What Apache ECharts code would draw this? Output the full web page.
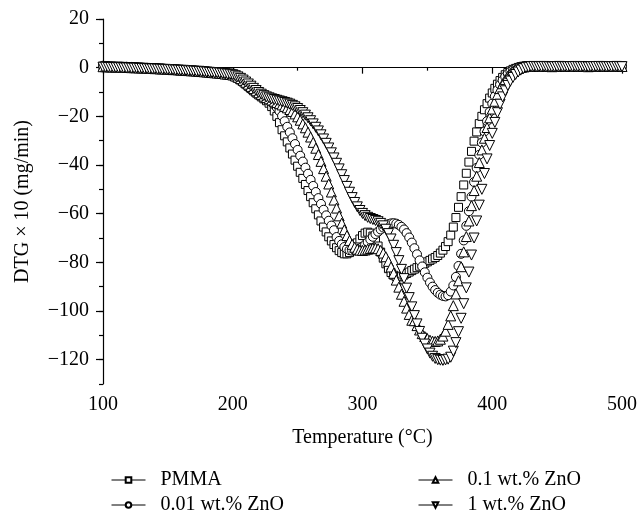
<!DOCTYPE html>
<html>
<head>
<meta charset="utf-8">
<script src="https://cdn.jsdelivr.net/npm/echarts@6/dist/echarts.min.js"></script>
<style>
html,body{margin:0;padding:0;background:#fff;}
#chart{width:640px;height:516px;}
</style>
</head>
<body>
<div id="chart"></div>
<script>
// Temperature (°C), sampled every 2 degrees
const temperature = [
100,102,104,106,108,110,112,114,116,118,120,122,124,126,128,130,132,134,136,138,
140,142,144,146,148,150,152,154,156,158,160,162,164,166,168,170,172,174,176,178,
180,182,184,186,188,190,192,194,196,198,200,202,204,206,208,210,212,214,216,218,
220,222,224,226,228,230,232,234,236,238,240,242,244,246,248,250,252,254,256,258,
260,262,264,266,268,270,272,274,276,278,280,282,284,286,288,290,292,294,296,298,
300,302,304,306,308,310,312,314,316,318,320,322,324,326,328,330,332,334,336,338,
340,342,344,346,348,350,352,354,356,358,360,362,364,366,368,370,372,374,376,378,
380,382,384,386,388,390,392,394,396,398,400,402,404,406,408,410,412,414,416,418,
420,422,424,426,428,430,432,434,436,438,440,442,444,446,448,450,452,454,456,458,
460,462,464,466,468,470,472,474,476,478,480,482,484,486,488,490,492,494,496,498,
500
];

// DTG x 10 (mg/min) for each sample
const pmma = [
0.6,0.6,0.5,0.5,0.5,0.4,0.4,0.4,0.3,0.3,0.3,0.2,0.2,0.1,0.1,0.0,0.0,-0.1,-0.1,-0.2,
-0.2,-0.3,-0.3,-0.4,-0.5,-0.5,-0.6,-0.7,-0.7,-0.8,-0.9,-1.0,-1.0,-1.1,-1.2,-1.3,-1.3,-1.4,-1.5,-1.6,
-1.7,-1.8,-1.9,-2.0,-2.1,-2.3,-2.4,-2.6,-2.8,-3.0,-3.3,-3.8,-4.4,-5.1,-5.9,-6.8,-7.7,-8.6,-9.5,-10.4,
-11.2,-12.0,-12.8,-13.6,-14.6,-16.0,-17.8,-20.0,-22.6,-25.5,-28,-30.5,-33,-35.5,-38,-40.5,-43,-45.5,-48,-50.5,
-53,-55.5,-58,-60.5,-63,-65.5,-67.5,-69.5,-71.2,-72.7,-74,-75.2,-76,-76.5,-76.5,-76,-75,-73.6,-72,-70.4,
-69,-68,-67.6,-68,-69.2,-71,-73.3,-75.8,-78.3,-80.6,-82.6,-84.2,-85.3,-85.9,-86,-85.7,-85.2,-84.6,-84,-83.4,
-82.8,-82.2,-81.6,-81,-80.4,-79.8,-79.2,-78.6,-78,-77.2,-76.2,-75,-73.5,-71.5,-68.8,-65.5,-61.6,-57.4,-53,-48.2,
-43.4,-38.8,-34.4,-30.2,-26.4,-23,-20,-17.3,-14.8,-12.5,-10.4,-8.5,-6.8,-5.3,-4,-2.9,-2,-1.3,-0.7,-0.3,
0.1,0.4,0.6,0.7,0.8,0.8,0.7,0.8,0.8,0.9,0.8,0.8,0.8,0.7,0.8,0.8,0.9,0.8,0.8,0.8,
0.8,0.7,0.8,0.8,0.8,0.9,0.8,0.8,0.8,0.8,0.7,0.8,0.8,0.9,0.8,0.8,0.8,0.8,0.9,0.8,
0.8
];
const zno001 = [
0.8,0.7,0.7,0.6,0.6,0.5,0.5,0.5,0.4,0.4,0.3,0.3,0.2,0.2,0.1,0.1,0.0,0.0,-0.1,-0.2,
-0.2,-0.3,-0.4,-0.4,-0.5,-0.6,-0.6,-0.7,-0.8,-0.8,-0.9,-1.0,-1.1,-1.1,-1.2,-1.3,-1.4,-1.5,-1.5,-1.6,
-1.7,-1.8,-1.9,-2.0,-2.1,-2.2,-2.4,-2.5,-2.7,-2.9,-3.2,-3.6,-4.1,-4.7,-5.4,-6.2,-7.0,-7.9,-8.8,-9.7,
-10.5,-11.3,-12.0,-12.7,-13.4,-14.2,-15.2,-16.4,-17.9,-19.8,-22,-24.3,-26.6,-29,-31.4,-33.8,-36.2,-38.6,-41.1,-43.6,
-46.1,-48.6,-51.1,-53.6,-56,-58.4,-60.7,-62.9,-64.9,-66.8,-69.6,-71.2,-72.6,-73.7,-74.5,-75,-75.2,-75.1,-74.8,-74.3,
-73.6,-72.7,-71.7,-70.6,-69.5,-68.4,-67.4,-66.5,-65.7,-65,-64.3,-64,-63.9,-64.1,-64.6,-65.4,-66.5,-68,-69.8,-71.9,
-74.2,-76.7,-79.2,-81.7,-84.1,-86.3,-88.3,-90,-91.4,-92.5,-93.3,-93.8,-94,-93.5,-92,-89.5,-86,-81.5,-76.5,-71,
-65,-59,-53,-47,-41.2,-35.8,-30.8,-26.2,-22,-18.2,-14.8,-11.8,-9.2,-7,-5.2,-3.7,-2.5,-1.6,-0.9,-0.4,
0,0.3,0.5,0.6,0.5,0.6,0.6,0.7,0.6,0.6,0.6,0.5,0.6,0.6,0.7,0.6,0.6,0.6,0.5,0.6,
0.6,0.6,0.7,0.6,0.6,0.6,0.6,0.5,0.6,0.6,0.6,0.7,0.6,0.6,0.6,0.6,0.6,0.5,0.6,0.6,
0.6
];
const zno01 = [
0.4,0.4,0.4,0.3,0.3,0.3,0.2,0.2,0.2,0.1,0.1,0.0,0.0,0.0,-0.1,-0.1,-0.2,-0.2,-0.3,-0.3,
-0.4,-0.4,-0.5,-0.5,-0.6,-0.6,-0.7,-0.8,-0.8,-0.9,-1.0,-1.0,-1.1,-1.2,-1.3,-1.3,-1.4,-1.5,-1.6,-1.7,
-1.8,-1.9,-2.0,-2.1,-2.2,-2.3,-2.4,-2.6,-2.7,-2.8,-3.0,-3.4,-3.9,-4.5,-5.2,-6.0,-6.8,-7.7,-8.6,-9.5,
-10.3,-11.0,-11.7,-12.3,-12.8,-13.3,-13.8,-14.3,-14.8,-15.3,-15.9,-16.5,-17.2,-18.0,-19.0,-20.2,-21.6,-23.1,-24.7,-26.5,
-28.5,-30.7,-33.1,-35.7,-38.5,-41.5,-44.6,-47.8,-51.1,-54.4,-57.7,-60.9,-63.9,-66.6,-69,-71,-72.6,-73.8,-74.6,-75,
-75.1,-74.9,-74.6,-74.3,-74.1,-74.1,-74.4,-75.1,-76.2,-77.7,-79.6,-81.9,-84.5,-87.3,-90.2,-93.1,-96,-98.8,-101.4,-103.8,
-104,-106,-107.8,-109.3,-110.5,-111.4,-112,-112.4,-112.5,-112.3,-111.6,-110.3,-108.3,-105.5,-102,-97.8,-93,-87.6,-81.8,-75.7,
-69.4,-63,-56.7,-50.5,-44.6,-39,-33.8,-29,-24.6,-20.6,-17,-13.8,-11,-8.6,-6.6,-4.9,-3.5,-2.4,-1.5,-0.8,
-0.3,0.1,0.3,0.5,0.5,0.5,0.6,0.5,0.5,0.5,0.6,0.5,0.5,0.4,0.5,0.5,0.6,0.5,0.5,0.5,
0.5,0.5,0.6,0.5,0.5,0.5,0.5,0.4,0.5,0.5,0.5,0.6,0.5,0.5,0.5,0.5,0.5,0.5,0.6,0.5,
0.5
];
const zno1 = [
0.2,0.2,0.1,0.1,0.1,0.0,0.0,0.0,-0.1,-0.1,-0.1,-0.2,-0.2,-0.2,-0.3,-0.3,-0.4,-0.4,-0.5,-0.5,
-0.5,-0.6,-0.6,-0.7,-0.7,-0.8,-0.8,-0.9,-1.0,-1.0,-1.1,-1.1,-1.2,-1.3,-1.3,-1.4,-1.5,-1.5,-1.6,-1.7,
-1.8,-1.9,-2.0,-2.1,-2.1,-2.2,-2.3,-2.5,-2.6,-2.7,-2.9,-3.3,-3.8,-4.4,-5.1,-5.9,-6.7,-7.6,-8.5,-9.4,
-10.2,-10.9,-11.5,-12.0,-12.4,-12.8,-13.1,-13.4,-13.7,-14.0,-14.3,-14.6,-15,-15.5,-16.1,-16.8,-17.6,-18.5,-19.5,-20.6,
-21.8,-23.1,-24.5,-26,-27.6,-29.3,-31.1,-33,-35,-37.1,-39.3,-41.6,-44,-46.4,-48.8,-51.2,-53.4,-55.4,-57.2,-58.7,
-59.9,-60.8,-61.5,-62,-62.4,-62.8,-63.3,-64,-65,-66.4,-68.2,-70.4,-73,-76,-79.3,-82.9,-86.7,-90.6,-94.5,-98.3,
-101.9,-105.3,-108.4,-111.2,-113.6,-115.6,-117.3,-118.6,-119.5,-120,-120.2,-120.3,-120.1,-119.8,-119,-116.5,-113,-108.5,-103,-97,
-90.5,-84,-77,-70,-63,-56.5,-50,-43.5,-37.5,-32,-27,-22.5,-18.5,-15,-12,-9.5,-7.3,-5.5,-4,-2.8,
-1.8,-1,-0.4,0,0.2,0.4,0.5,0.4,0.4,0.4,0.5,0.4,0.4,0.3,0.4,0.4,0.5,0.4,0.4,0.4,
0.4,0.4,0.5,0.4,0.4,0.4,0.4,0.3,0.4,0.4,0.4,0.5,0.4,0.4,0.4,0.4,0.4,0.4,0.5,0.4,
0.4
];

const seriesNames = ['PMMA', '0.01 wt.% ZnO', '0.1 wt.% ZnO', '1 wt.% ZnO'];
const yTickValues = [20, 0, -20, -40, -60, -80, -100, -120];

const FONT = '"Liberation Serif", "Times New Roman", serif';
const FS = 20;
const pairs = ys => temperature.map((t, i) => [t, ys[i]]);

function markerSeries(name, ys, symbol, size, rotate) {
  return {
    name: name,
    type: 'line',
    data: pairs(ys),
    symbol: symbol,
    symbolSize: size,
    symbolRotate: rotate || 0,
    showAllSymbol: true,
    lineStyle: { color: '#000', width: 1, opacity: 0 },
    itemStyle: { color: '#fff', borderColor: '#000', borderWidth: 1 },
    emphasis: { disabled: true },
    animation: false
  };
}

// one legend block per entry, laid out as a 2 x 2 grid under the plot
function legendBlock(name, left, top) {
  return {
    data: [name],
    left: left, top: top,
    itemWidth: 34, itemHeight: 7,
    lineStyle: { color: '#000', width: 1, opacity: 1 },
    formatter: n => '\u2002' + n,
    textStyle: { color: '#000', fontFamily: FONT, fontSize: FS },
    selectedMode: false
  };
}

const chart = echarts.init(document.getElementById('chart'), null, { renderer: 'canvas' });
const axisLine = { show: true, lineStyle: { color: '#000', width: 1.2 } };
const labelStyle = { color: '#000', fontFamily: FONT, fontSize: FS };

chart.setOption({
  animation: false,
  backgroundColor: '#fff',
  textStyle: { fontFamily: FONT, color: '#000' },
  grid: { left: 103, right: 16, top: 19, bottom: 132, containLabel: false },
  xAxis: {
    type: 'value', min: 100, max: 500, interval: 100,
    axisLine: axisLine,
    axisTick: { show: true, length: 6, lineStyle: { color: '#000', width: 1.2 } },
    minorTick: { show: true, splitNumber: 2, length: 3, lineStyle: { color: '#000', width: 1.2 } },
    splitLine: { show: false },
    axisLabel: Object.assign({ margin: 11 }, labelStyle),
    name: 'Temperature (°C)',
    nameLocation: 'middle',
    nameGap: 44,
    nameTextStyle: { color: '#000', fontFamily: FONT, fontSize: FS }
  },
  yAxis: [
    {
      type: 'value', min: -130, max: 20, interval: 10,
      axisLine: axisLine,
      axisTick: { show: true, length: 4, lineStyle: { color: '#000', width: 1.2 } },
      splitLine: { show: false },
      axisLabel: { show: false }
    },
    {
      type: 'value', min: -130, max: 20, position: 'left',
      axisLine: { show: false },
      axisTick: { show: true, length: 7, customValues: yTickValues, lineStyle: { color: '#000', width: 1.2 } },
      splitLine: { show: false },
      axisLabel: Object.assign({
        margin: 14,
        customValues: yTickValues,
        formatter: v => String(v).replace('-', '\u2212')
      }, labelStyle),
      name: 'DTG \u00d7 10 (mg/min)',
      nameLocation: 'middle',
      nameGap: 70,
      nameRotate: 90,
      nameTextStyle: { color: '#000', fontFamily: FONT, fontSize: FS }
    }
  ],
  legend: [
    legendBlock(seriesNames[0], 106, 465),
    legendBlock(seriesNames[1], 106, 490),
    legendBlock(seriesNames[2], 413, 465),
    legendBlock(seriesNames[3], 413, 490)
  ],
  series: [
    markerSeries(seriesNames[0], pmma, 'rect', 8),
    markerSeries(seriesNames[1], zno001, 'circle', 9),
    markerSeries(seriesNames[2], zno01, 'triangle', 10),
    markerSeries(seriesNames[3], zno1, 'triangle', 10, 180)
  ]
});
</script>
</body>
</html>
